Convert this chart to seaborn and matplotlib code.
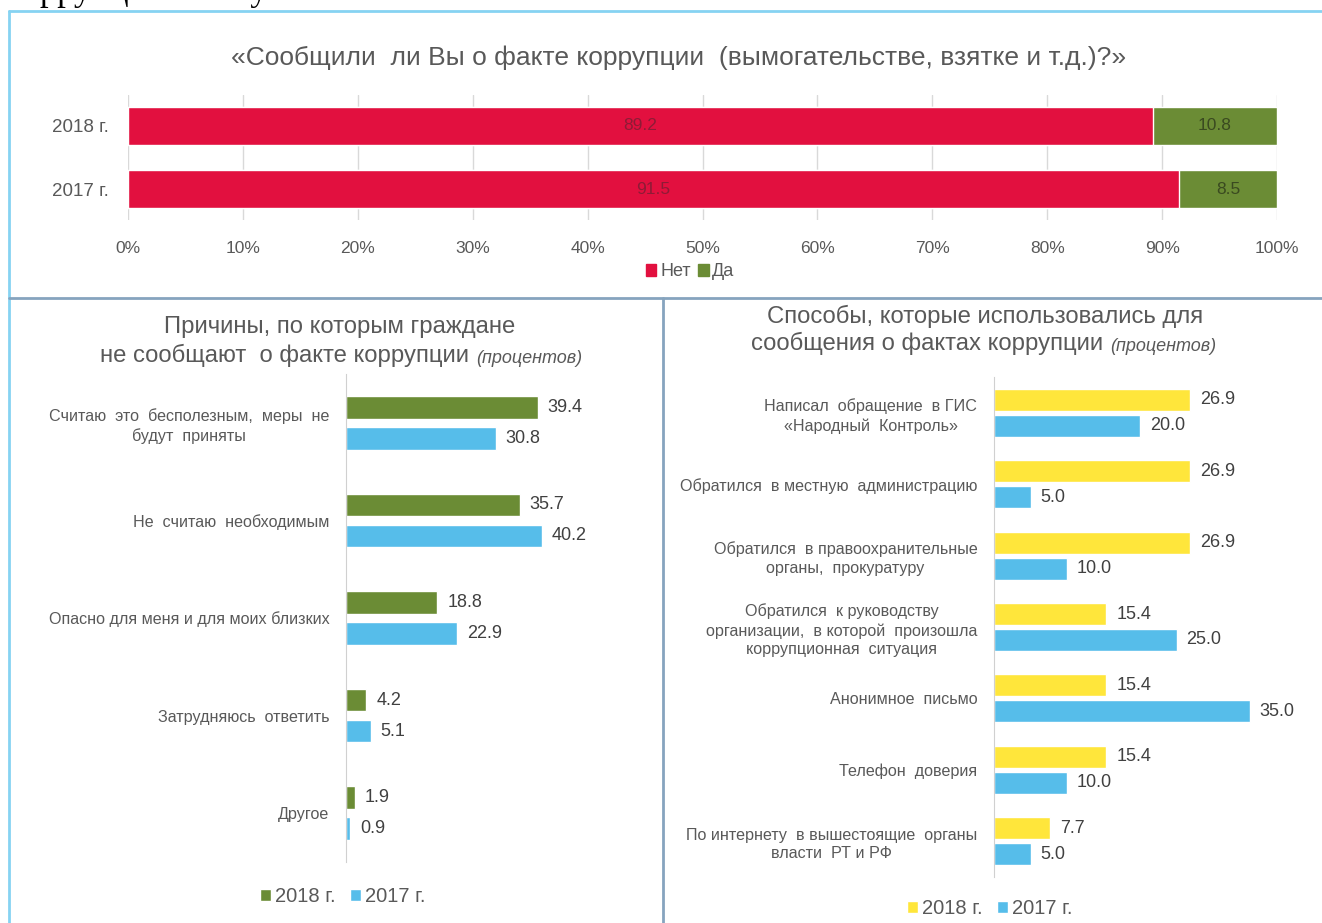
import numpy as np
import pandas as pd
import matplotlib
matplotlib.use("Agg")
import matplotlib.pyplot as plt
from matplotlib.patches import Patch
from matplotlib.lines import Line2D
import seaborn as sns

# top chart: did you report corruption
years_top = ["2018 г.", "2017 г."]
net = [89.2, 91.5]
da = [10.8, 8.5]

# bottom left: reasons for not reporting
reasons = ["Считаю  это  бесполезным,  меры  не\nбудут  приняты",
           "Не  считаю  необходимым",
           "Опасно для меня и для моих близких",
           "Затрудняюсь  ответить",
           "Другое"]
reasons_2018 = [39.4, 35.7, 18.8, 4.2, 1.9]
reasons_2017 = [30.8, 40.2, 22.9, 5.1, 0.9]

# bottom right: ways of reporting
ways = ["Написал  обращение  в ГИС\n«Народный  Контроль»",
        "Обратился  в местную  администрацию",
        "Обратился  в правоохранительные\nорганы,  прокуратуру",
        "Обратился  к руководству\nорганизации,  в которой  произошла\nкоррупционная  ситуация",
        "Анонимное  письмо",
        "Телефон  доверия",
        "По интернету  в вышестоящие  органы\nвласти  РТ и РФ"]
ways_2018 = [26.9, 26.9, 26.9, 15.4, 15.4, 15.4, 7.7]
ways_2017 = [20.0, 5.0, 10.0, 25.0, 35.0, 10.0, 5.0]

RED = "#E2103F"
GREEN = "#6B8C35"
BLUE = "#56BDEA"
YELLOW = "#FFE63B"
GREY = "#595959"

sns.set_style("white")
plt.rcParams['font.family'] = ['Liberation Sans', 'DejaVu Sans']

W, H = 1322, 923
fig = plt.figure(figsize=(W / 100, H / 100), dpi=100)


def px_axes(x0, y0, x1, y1):
    return fig.add_axes([x0 / W, 1 - y1 / H, (x1 - x0) / W, (y1 - y0) / H])


def fx(x):
    return x / W


def fy(y):
    return 1 - y / H


# ---------- frames ----------
fig.add_artist(Line2D([fx(9), fx(1322)], [fy(11), fy(11)], color="#86D3F2", lw=2))
fig.add_artist(Line2D([fx(9), fx(9)], [fy(11), fy(923)], color="#86D3F2", lw=2))
fig.add_artist(Line2D([fx(9), fx(1322)], [fy(298), fy(298)], color="#86A4BE", lw=2))
fig.add_artist(Line2D([fx(663), fx(663)], [fy(298), fy(923)], color="#86A4BE", lw=2))

# clipped text from the page above
fig.text(fx(40), fy(0), "ррупции  в  случае", fontsize=25, family="Liberation Serif",
         va="baseline", color="black")

# ---------- top chart ----------
top = pd.DataFrame({"year": years_top, "net": net, "da": da})
top["total"] = top["net"] + top["da"]

ax = px_axes(128, 95, 1277, 220)
sns.barplot(data=top, y="year", x="total", color=GREEN, width=0.6, orient="h",
            saturation=1, ax=ax)
sns.barplot(data=top, y="year", x="net", color=RED, width=0.6, orient="h",
            saturation=1, ax=ax)
ax.bar_label(ax.containers[1], fmt="%.1f", label_type="center", fontsize=12.5,
             color="#8E1B36")
for i, (n, d) in enumerate(zip(net, da)):
    ax.text(n + d / 2, i, f"{d:.1f}", ha="center", va="center", fontsize=12.5,
            color="#3A4A20")
ax.set_xlim(0, 100)
ax.set_ylim(1.492, -0.492)
ax.set_xticks(np.arange(0, 101, 10))
ax.set_xticklabels([f"{t}%" for t in range(0, 101, 10)])
ax.xaxis.grid(True, color="#D9D9D9", lw=1)
ax.set_axisbelow(True)
sns.despine(ax=ax, left=True, bottom=True)
ax.tick_params(axis="x", length=0, pad=15, labelsize=12.5, labelcolor=GREY)
ax.tick_params(axis="y", length=0, pad=14, labelsize=13.5, labelcolor=GREY)
ax.set_xlabel("")
ax.set_ylabel("")

fig.suptitle("«Сообщили  ли Вы о факте коррупции  (вымогательстве, взятке и т.д.)?»",
             x=fx(679), y=fy(58), va="center", fontsize=19, color=GREY)
fig.legend(handles=[Patch(color=RED), Patch(color=GREEN)], labels=["Нет", "Да"],
           loc="center", bbox_to_anchor=(fx(690), fy(272)), ncol=2, frameon=False,
           fontsize=13, handlelength=0.6, handleheight=0.6, handletextpad=0.2,
           columnspacing=0.4, labelcolor=GREY)


# ---------- bottom charts ----------
def pair_chart(box, cats, v18, v17, palette, xmax, width, gap, legend_xy):
    df = pd.DataFrame({"cat": cats * 2,
                       "year": ["2018 г."] * len(cats) + ["2017 г."] * len(cats),
                       "val": list(v18) + list(v17)})
    a = px_axes(*box)
    sns.barplot(data=df, y="cat", x="val", hue="year", palette=palette, orient="h",
                width=width, gap=gap, saturation=1, ax=a)
    for c in a.containers:
        a.bar_label(c, fmt="%.1f", padding=7, fontsize=13, color="#404040")
    a.set_xlim(0, xmax)
    a.set_ylim(len(cats) - 0.5, -0.5)
    a.set_xticks([])
    a.set_xlabel("")
    a.set_ylabel("")
    sns.despine(ax=a, bottom=True)
    a.spines["left"].set_color("#D0D0D0")
    a.tick_params(axis="y", length=0, pad=12, labelsize=11.6, labelcolor=GREY)
    for lab in a.get_yticklabels():
        lab.set_multialignment("center")
        lab.set_linespacing(1.3)
    sns.move_legend(a, "center", bbox_to_anchor=(fx(legend_xy[0]), fy(legend_xy[1])),
                    bbox_transform=fig.transFigure, ncol=2, title=None, frameon=False,
                    fontsize=14.5, handlelength=0.55, handleheight=0.55,
                    handletextpad=0.2, columnspacing=0.7, labelcolor=GREY)
    return a


pair_chart((346, 374, 638, 862), reasons, reasons_2018, reasons_2017,
           {"2018 г.": GREEN, "2017 г.": BLUE}, 60, 0.636, 0.27, (343, 897))
pair_chart((994, 377, 1286, 877), ways, ways_2018, ways_2017,
           {"2018 г.": YELLOW, "2017 г.": BLUE}, 40, 0.728, 0.15, (990, 909))


def two_line_title(line1, x1, y1, line2, x2, y2):
    fig.text(fx(x1), fy(y1), line1, ha="center", va="center", fontsize=17.2, color=GREY)
    t = fig.text(fx(x2), fy(y2), line2, ha="left", va="center", fontsize=17.2, color=GREY)
    plt.annotate("(процентов)", xy=(1, 0), xycoords=t, xytext=(5, 0),
                 textcoords="offset points", ha="left", va="bottom", fontsize=13,
                 style="italic", color=GREY)


two_line_title("Причины, по которым граждане", 340, 327,
               "не сообщают  о факте коррупции", 100, 355)
two_line_title("Способы, которые использовались для", 985, 316,
               "сообщения о фактах коррупции", 751, 343)

fig.savefig("out.png", dpi=100)
